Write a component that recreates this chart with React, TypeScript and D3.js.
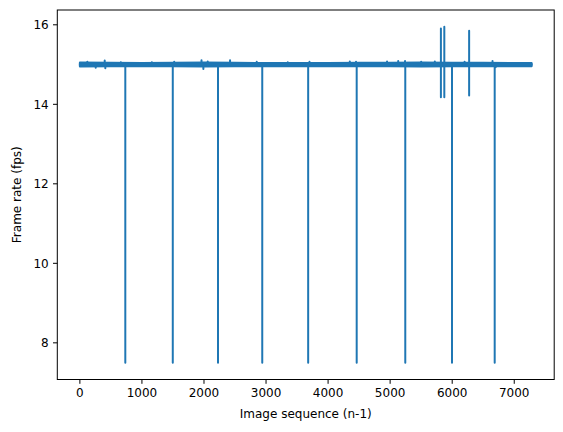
import React from "react";
import * as d3 from "d3";

// ---- data ----
const lastFrame = 7280;
const baseFps = 15;

// frames where the frame rate dropped to ~7.5 fps
const dropFrames = [732, 1497, 2226, 2939, 3679, 4461, 5244, 5997, 6685];
const dropValues = [7.5, 7.5, 7.5, 7.5, 7.5, 7.5, 7.5, 7.5, 7.5];

// up/down jitter spikes near the end
const jitterFrames = [5818, 5873, 6273];
const jitterHigh = [15.91, 15.95, 15.85];
const jitterLow = [14.18, 14.18, 14.22];

// small excursions from the noisy band
const blipFrames = [120, 255, 400, 410, 660, 1160, 1520, 1960, 1990, 2060, 2420, 2850, 3350, 3700, 4350, 4450, 4950, 5130, 5240, 5500, 5720, 6200, 6650, 6700];
const blipValues = [15.07, 14.92, 15.1, 14.91, 15.06, 15.06, 15.07, 15.11, 14.89, 15.08, 15.11, 15.07, 15.06, 15.07, 15.08, 15.07, 15.08, 15.09, 15.09, 15.07, 15.08, 15.07, 15.09, 14.93];

// envelope of the dense noise band around 15 fps
const bandFrames = [0, 500, 1000, 1500, 2000, 2500, 3000, 3500, 4000, 4500, 5000, 5500, 6000, 6500, 7000, 7280];
const bandHigh = [15.05, 15.045, 15.04, 15.045, 15.05, 15.045, 15.04, 15.04, 15.04, 15.045, 15.045, 15.05, 15.045, 15.045, 15.04, 15.04];
const bandLow = [14.95, 14.955, 14.96, 14.955, 14.95, 14.955, 14.96, 14.96, 14.96, 14.955, 14.955, 14.95, 14.955, 14.955, 14.96, 14.96];

const xTicks = [0, 1000, 2000, 3000, 4000, 5000, 6000, 7000];
const yTicks = [8, 10, 12, 14, 16];

const xLabel = "Image sequence (n-1)";
const yLabel = "Frame rate (fps)";

// ---- layout ----
const W = 563;
const H = 432;
const L = 57.3;
const R = 554.2;
const T = 10;
const B = 379.5;
const COLOR = "#1f77b4";
const FONT = "DejaVu Sans, sans-serif";

type Pt = { f: number; v: number };

export default function App() {
  const yMin = d3.min(dropValues)!;
  const yMax = d3.max(jitterHigh)!;
  const yPad = (yMax - yMin) * 0.05;
  const xPad = lastFrame * 0.05;

  const x = d3.scaleLinear().domain([-xPad, lastFrame + xPad]).range([L, R]);
  const y = d3.scaleLinear().domain([yMin - yPad, yMax + yPad]).range([B, T]);

  // build line table from events
  const events: { f: number; vals: number[] }[] = [];
  dropFrames.forEach((f, i) => events.push({ f, vals: [dropValues[i]] }));
  jitterFrames.forEach((f, i) => events.push({ f, vals: [jitterHigh[i], jitterLow[i]] }));
  blipFrames.forEach((f, i) => events.push({ f, vals: [blipValues[i]] }));
  events.sort((a, b) => a.f - b.f);

  const pts: Pt[] = [{ f: 0, v: baseFps }];
  events.forEach((e) => {
    pts.push({ f: e.f, v: baseFps });
    e.vals.forEach((v) => pts.push({ f: e.f, v }));
    pts.push({ f: e.f, v: baseFps });
  });
  pts.push({ f: lastFrame, v: baseFps });

  const line = d3
    .line<Pt>()
    .x((d) => x(d.f))
    .y((d) => y(d.v));

  const bandData = bandFrames.map((f, i) => ({ f, hi: bandHigh[i], lo: bandLow[i] }));
  const area = d3
    .area<{ f: number; hi: number; lo: number }>()
    .x((d) => x(d.f))
    .y0((d) => y(d.lo))
    .y1((d) => y(d.hi));

  const tickLen = 4.3;
  const fs = 12;

  return (
    <svg
      width={W}
      height={H}
      style={{ position: "absolute", left: 0, top: 0, display: "block", background: "#fff" }}
      fontFamily={FONT}
    >
      <rect x={0} y={0} width={W} height={H} fill="#fff" />
      <defs>
        <clipPath id="plotclip">
          <rect x={L} y={T} width={R - L} height={B - T} />
        </clipPath>
      </defs>
      <g clipPath="url(#plotclip)">
        <path
          d={area(bandData) || ""}
          fill={COLOR}
          stroke={COLOR}
          strokeWidth={2}
          strokeLinejoin="round"
        />
        <path
          d={line(pts) || ""}
          fill="none"
          stroke={COLOR}
          strokeWidth={2}
          strokeLinejoin="round"
          strokeLinecap="square"
        />
      </g>
      {/* spines */}
      <rect x={L} y={T} width={R - L} height={B - T} fill="none" stroke="#000" strokeWidth={1} />
      {/* x ticks */}
      {xTicks.map((t) => (
        <g key={"x" + t}>
          <line x1={x(t)} x2={x(t)} y1={B} y2={B + tickLen} stroke="#000" strokeWidth={1} />
          <text x={x(t)} y={B + tickLen + 4.3 + 9.3} textAnchor="middle" fontSize={fs} fill="#000">
            {t}
          </text>
        </g>
      ))}
      {/* y ticks */}
      {yTicks.map((t) => (
        <g key={"y" + t}>
          <line x1={L - tickLen} x2={L} y1={y(t)} y2={y(t)} stroke="#000" strokeWidth={1} />
          <text x={L - tickLen - 4.3} y={y(t)} dy="0.36em" textAnchor="end" fontSize={fs} fill="#000">
            {t}
          </text>
        </g>
      ))}
      <text x={(L + R) / 2} y={418} textAnchor="middle" fontSize={fs} fill="#000">
        {xLabel}
      </text>
      <text
        transform={`translate(20.5, ${(T + B) / 2}) rotate(-90)`}
        textAnchor="middle"
        fontSize={fs}
        fill="#000"
      >
        {yLabel}
      </text>
    </svg>
  );
}
